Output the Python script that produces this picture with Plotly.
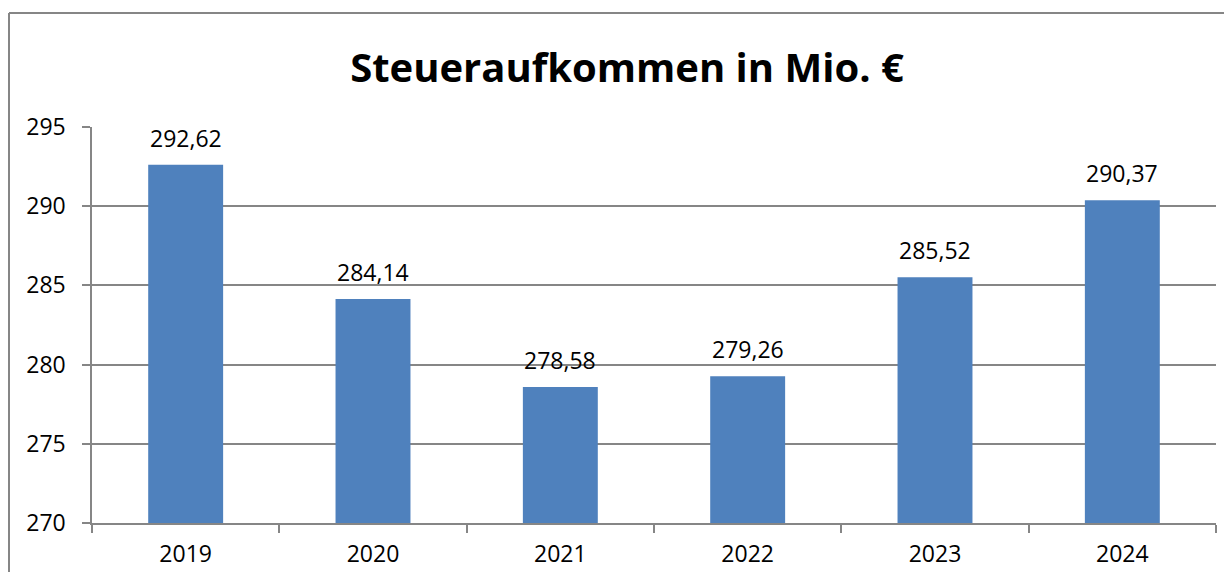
import plotly.graph_objects as go

years = ["2019", "2020", "2021", "2022", "2023", "2024"]
values = [292.62, 284.14, 278.58, 279.26, 285.52, 290.37]
labels = ["292,62", "284,14", "278,58", "279,26", "285,52", "290,37"]
title_text = "Steueraufkommen in Mio. €"

# page body has an 8px margin; figure sized to fit the window without scrollbars
OFF = 8
W, H = 1232 - OFF, 580 - 2 * OFF
ML = 92 - OFF
MR = W - (1216 - OFF)
MT = 127 - OFF
MB = H - (523 - OFF)
pw = W - ML - MR
ph = H - MT - MB

fig = go.Figure()
fig.add_trace(go.Bar(x=years, y=values, marker=dict(color="#4F81BD", line=dict(width=0)),
                     hoverinfo="skip"))

for i, (v, lab) in enumerate(zip(values, labels)):
    fig.add_annotation(x=i, y=v, text=lab, showarrow=False, yanchor="middle", yshift=27,
                       font=dict(family="Open Sans", size=23, color="#000000"))

gray = "#868686"
# outer chart border (left and top only visible)
bx = (9 - OFF - ML) / pw
by = (H - MB - (13 - OFF)) / ph
fig.add_shape(type="line", xref="paper", yref="paper", x0=bx, x1=bx, y0=-0.5, y1=by,
              line=dict(color=gray, width=2))
fig.add_shape(type="line", xref="paper", yref="paper", x0=bx, x1=1.2, y0=by, y1=by,
              line=dict(color=gray, width=2))

fig.update_layout(
    width=W, height=H,
    margin=dict(l=ML, r=MR, t=MT, b=MB, autoexpand=False),
    paper_bgcolor="white", plot_bgcolor="white",
    bargap=0.6,
    showlegend=False,
    title=dict(text="<b>" + title_text + "</b>", x=(627 - OFF - ML) / pw, xref="paper", xanchor="center",
               y=1 - (68 - OFF) / H, yref="container", yanchor="middle",
               font=dict(family="Open Sans", size=40, color="#000000")),
    font=dict(family="Open Sans", size=23, color="#000000"),
    xaxis=dict(type="category", automargin=False, tickangle=0, range=[-0.5, 5.5],
               showline=True, linecolor=gray, linewidth=1.5, ticks="outside", tickson="boundaries",
               ticklen=8, tickcolor=gray, tickwidth=1.5, showgrid=False, ticklabelstandoff=10,
               tickfont=dict(family="Open Sans", size=23, color="#000000")),
    yaxis=dict(range=[270, 295], dtick=5, tick0=270, automargin=False,
               showline=True, linecolor=gray, linewidth=1.5,
               ticks="outside", ticklen=8, tickcolor=gray, tickwidth=1.5,
               ticksuffix="\u00a0\u00a0",
               showgrid=True, gridcolor=gray, gridwidth=1.5, zeroline=False,
               tickfont=dict(family="Open Sans", size=23, color="#000000")),
)

fig.write_html("out.html")
